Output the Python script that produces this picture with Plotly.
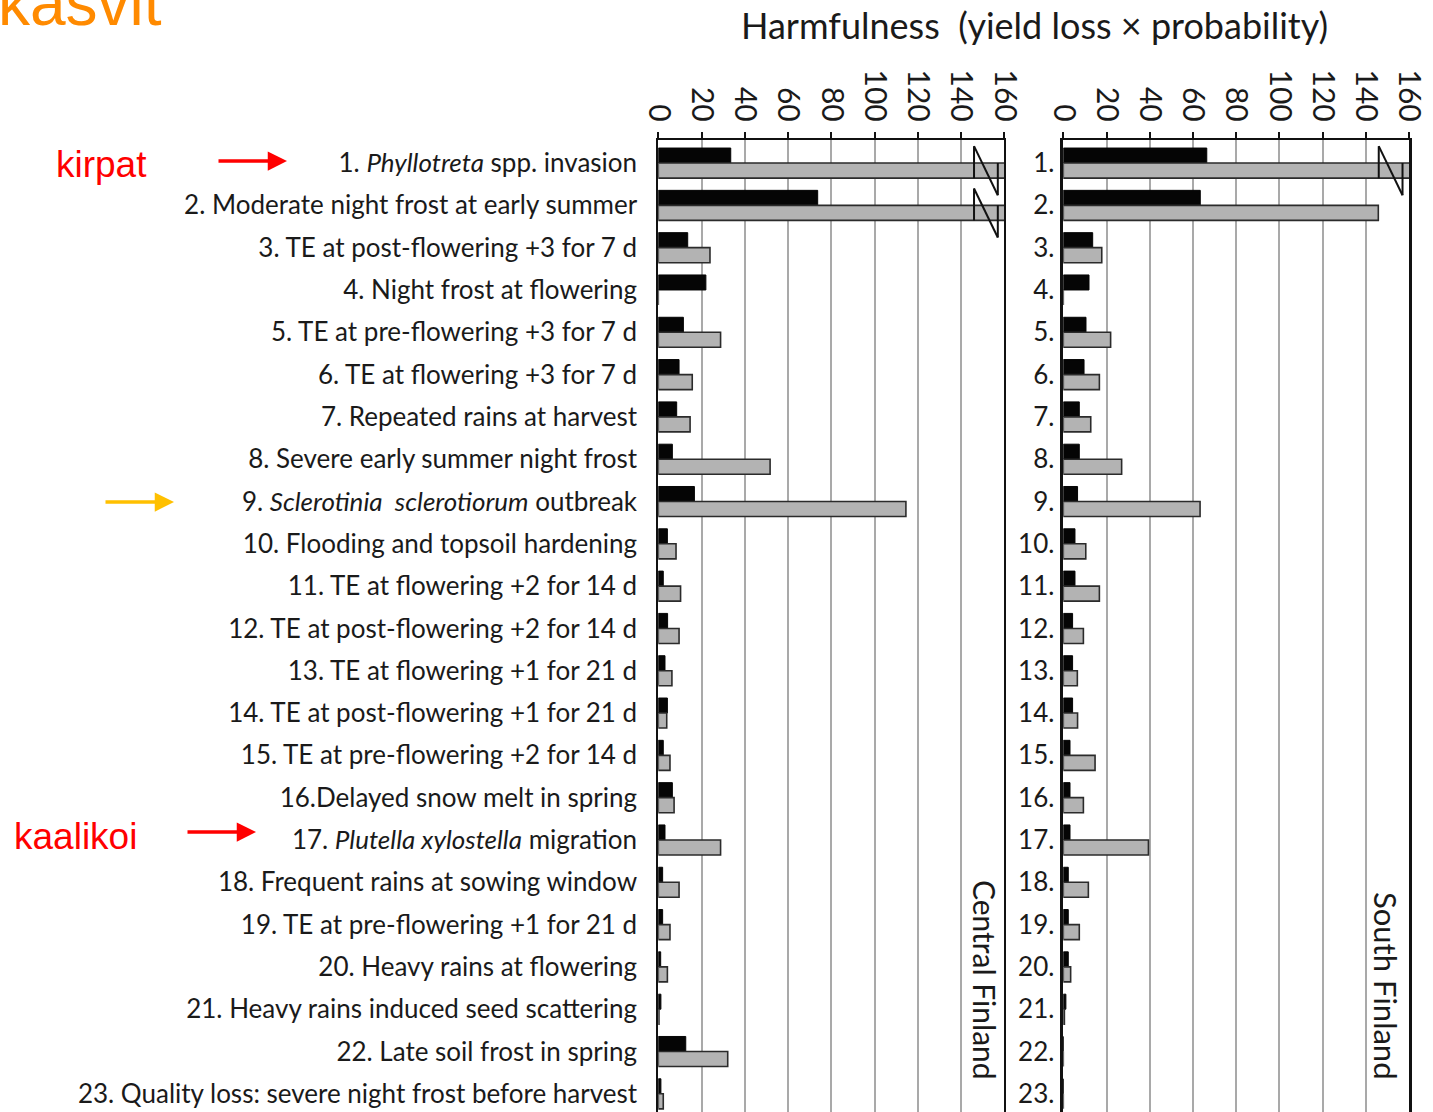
import plotly.graph_objects as go

# Risk factors (row labels) and harmfulness values for the two regions
labels = [
    "1. <i>Phyllotreta</i> spp. invasion",
    "2. Moderate night frost at early summer",
    "3. TE at post-flowering +3 for 7 d",
    "4. Night frost at flowering",
    "5. TE at pre-flowering +3 for 7 d",
    "6. TE at flowering +3 for 7 d",
    "7. Repeated rains at harvest",
    "8. Severe early summer night frost",
    "9. <i>Sclerotinia  sclerotiorum</i> outbreak",
    "10. Flooding and topsoil hardening",
    "11. TE at flowering +2 for 14 d",
    "12. TE at post-flowering +2 for 14 d",
    "13. TE at flowering +1 for 21 d",
    "14. TE at post-flowering +1 for 21 d",
    "15. TE at pre-flowering +2 for 14 d",
    "16.Delayed snow melt in spring",
    "17. <i>Plutella xylostella</i> migration",
    "18. Frequent rains at sowing window",
    "19. TE at pre-flowering +1 for 21 d",
    "20. Heavy rains at flowering",
    "21. Heavy rains induced seed scattering",
    "22. Late soil frost in spring",
    "23. Quality loss: severe night frost before harvest",
]
short_labels = [f"{i}." for i in range(1, 24)]
rows = list(range(1, 24))

# Central Finland (black = first series, grey = second series); off-scale bars run past 160
central_black = [33.5, 73.7, 13.6, 22.0, 11.6, 9.6, 8.5, 6.5, 16.7, 4.2, 2.3, 4.3,
                 3.1, 4.2, 2.3, 6.5, 3.1, 2.0, 2.0, 1.1, 1.2, 12.7, 1.2]
central_grey = [200, 200, 23.9, 0, 28.8, 15.7, 14.7, 51.7, 114.5, 8.2, 10.3, 9.6,
                6.3, 3.9, 5.4, 7.3, 28.8, 9.6, 5.4, 4.2, 0.3, 32.1, 2.3]
# South Finland
south_black = [66.4, 63.4, 13.6, 11.9, 10.5, 9.6, 7.4, 7.4, 6.6, 5.4, 5.4, 4.3,
               4.3, 4.3, 3.1, 3.1, 3.1, 2.3, 2.3, 2.3, 1.2, 0, 0]
south_grey = [200, 145.8, 17.8, 0, 21.9, 16.7, 12.7, 27.0, 63.3, 10.4, 16.7, 9.3,
              6.5, 6.6, 14.7, 9.3, 39.4, 11.6, 7.4, 3.4, 0.5, 0, 0]

# rows whose grey bar is broken (off scale) in each panel
broken_central = [1, 2]
broken_south = [1]
x_ticks = [0, 20, 40, 60, 80, 100, 120, 140, 160]

W, H = 1433, 1112
FONT = "Lato, 'Noto Sans', sans-serif"
BLACK = "#050505"
GREY = "#b3b3b3"
EDGE = "#2b2b2b"

fig = go.Figure()

def add_panel(black, grey, xa, ya):
    fig.add_trace(go.Bar(
        y=rows, x=black, orientation="h", xaxis=xa, yaxis=ya,
        marker=dict(color=BLACK, line=dict(color=BLACK, width=1)),
        showlegend=False, hoverinfo="x",
    ))
    fig.add_trace(go.Bar(
        y=rows, x=grey, orientation="h", xaxis=xa, yaxis=ya,
        marker=dict(color=GREY, line=dict(color=EDGE, width=1.6)),
        showlegend=False, hoverinfo="x",
    ))

add_panel(central_black, central_grey, "x", "y")
add_panel(south_black, south_grey, "x2", "y2")

top = 1 - 140 / H
xdom1 = [658.3 / W, 1004.3 / W]
xdom2 = [1063.3 / W, 1409.0 / W]
yrange = [23.43, 0.455]

xaxis_common = dict(
    range=[0, 160], side="top", tickvals=x_ticks, tickangle=90,
    ticks="outside", ticklen=6, tickwidth=1.5, tickcolor="#111",
    showline=True, linecolor="#111", linewidth=1.5,
    showgrid=True, gridcolor="#a9a9a9", gridwidth=2,
    zeroline=False, tickfont=dict(family=FONT, size=30, color="#1a1a1a"),
    fixedrange=True, automargin=False,
)
fig.update_layout(
    xaxis=dict(domain=xdom1, anchor="y", **xaxis_common),
    xaxis2=dict(domain=xdom2, anchor="y2", **xaxis_common),
    yaxis=dict(
        domain=[0, top], range=yrange, anchor="x", tickvals=rows, ticktext=labels,
        showline=True, mirror=True, linecolor="#111", linewidth=2,
        showgrid=False, zeroline=False, ticks="", ticklabelstandoff=14,
        tickfont=dict(family=FONT, size=26, color="#1a1a1a"), automargin=False,
    ),
    yaxis2=dict(
        domain=[0, top], range=yrange, anchor="x2", tickvals=rows, ticktext=short_labels,
        showline=True, mirror=True, linecolor="#111", linewidth=2.5,
        showgrid=False, zeroline=False, ticks="", ticklabelstandoff=1,
        tickfont=dict(family=FONT, size=26, color="#1a1a1a"), automargin=False,
    ),
    barmode="group", bargap=0.29, bargroupgap=0,
    width=W, height=H, margin=dict(l=0, r=0, t=0, b=0, pad=0),
    paper_bgcolor="white", plot_bgcolor="white",
)

# "Z" break markers on off-scale bars
shapes = []
def add_break(row, xref, yref):
    x0, x1 = 146, 157
    y_top, y_mid_bot, y_low = row - 0.40, row + 0.36, row + 0.76
    ln = dict(color="#111", width=2)
    shapes.append(dict(type="line", xref=xref, yref=yref, x0=x0, x1=x0, y0=y_top, y1=y_mid_bot, line=ln))
    shapes.append(dict(type="line", xref=xref, yref=yref, x0=x0, x1=x1, y0=y_top, y1=y_low, line=ln))
    shapes.append(dict(type="line", xref=xref, yref=yref, x0=x1, x1=x1, y0=row, y1=y_low, line=ln))

for r in broken_central:
    add_break(r, "x", "y")
for r in broken_south:
    add_break(r, "x2", "y2")
fig.update_layout(shapes=shapes)

def px(x):
    return x / W

def py(y):
    return 1 - y / H

annotations = [
    dict(text="Harmfulness  (yield loss × probability)", x=px(1034), y=py(25),
         xref="paper", yref="paper", showarrow=False, xanchor="center", yanchor="middle",
         font=dict(family=FONT, size=36, color="#1a1a1a")),
    dict(text="Central Finland", x=px(985), y=py(1082), xref="paper", yref="paper",
         showarrow=False, textangle=90, xanchor="center", yanchor="bottom",
         font=dict(family=FONT, size=30, color="#1a1a1a")),
    dict(text="South Finland", x=px(1386), y=py(1082), xref="paper", yref="paper",
         showarrow=False, textangle=90, xanchor="center", yanchor="bottom",
         font=dict(family=FONT, size=31, color="#1a1a1a")),
    dict(text="kasvit", x=px(-4), y=py(27), xref="paper", yref="paper",
         showarrow=False, xanchor="left", yanchor="bottom", yshift=-14,
         font=dict(family="'Liberation Sans', Arial, sans-serif", size=64, color="#ff8a00")),
    dict(text="kirpat", x=px(54), y=py(165), xref="paper", yref="paper",
         showarrow=False, xanchor="left", yanchor="middle",
         font=dict(family="'Liberation Sans', Arial, sans-serif", size=37, color="#ff0000")),
    dict(text="kaalikoi", x=px(12), y=py(836), xref="paper", yref="paper",
         showarrow=False, xanchor="left", yanchor="middle",
         font=dict(family="'Liberation Sans', Arial, sans-serif", size=37, color="#ff0000")),
]

for (xt, yt, length, col) in [(287, 161, 70, "#ff0000"), (174, 502, 70, "#ffc000"), (256, 832, 70, "#ff0000")]:
    annotations.append(dict(
        x=px(xt), y=py(yt), xref="paper", yref="paper", text="", showarrow=True,
        ax=-length, ay=0, axref="pixel", ayref="pixel",
        arrowhead=2, arrowsize=1.1, arrowwidth=3.5, arrowcolor=col,
    ))

fig.update_layout(annotations=annotations)

fig.write_html("out.html")
